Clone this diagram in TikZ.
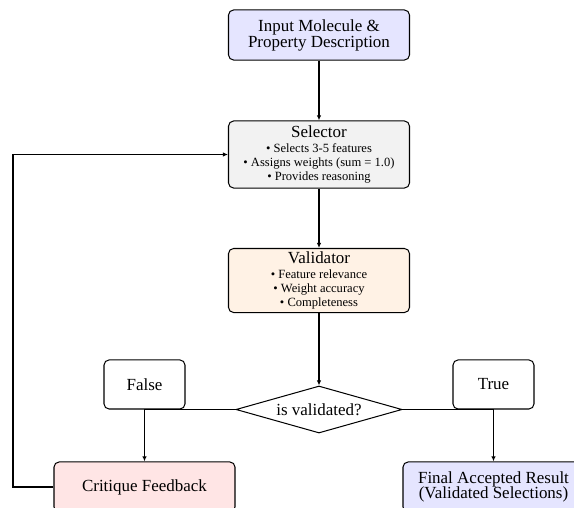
\documentclass[tikz,border=0pt]{standalone}
\usepackage{fontspec}
\setmainfont{Liberation Serif}
\usetikzlibrary{shapes.geometric, arrows.meta}

\begin{document}
\begin{tikzpicture}[x=0.589pt, y=-0.589pt,
    box/.style={draw, semithick, rounded corners=3pt, align=center, minimum width=106.6pt, minimum height=29.5pt, inner sep=2pt},
    listbox/.style={box, font=\fontsize{7.4}{8.2}\selectfont},
    flag/.style={draw, semithick, rounded corners=3pt, fill=white, minimum width=47.7pt, minimum height=28.9pt},
    decision/.style={draw, semithick, diamond, aspect=3.5, minimum width=97.8pt, minimum height=27.7pt, inner sep=1pt},
    arrow/.style={semithick, -{Latex[length=3pt, width=2.6pt]}}]
    \useasboundingbox (0,0) rectangle (574,508);

    % Main column
    \node[box, fill=blue!10] (input) at (319,35) {Input Molecule \&\\[-2.6pt]Property Description};
    \node[listbox, fill=gray!10, minimum height=39.5pt] (selector) at (319,154.5)
        {{\fontsize{10}{12}\selectfont Selector}\\[0.6pt]\textbullet{} Selects 3-5 features\\\textbullet{} Assigns weights (sum = 1.0)\\\textbullet{} Provides reasoning};
    \node[listbox, fill=orange!10, minimum height=36pt] (validator) at (319,280.5)
        {{\fontsize{10}{12}\selectfont Validator}\\[0.6pt]\textbullet{} Feature relevance\\\textbullet{} Weight accuracy\\\textbullet{} Completeness};
    \node[decision] (check) at (319,409.5) {is validated?};

    % Outcomes
    \node[box, fill=red!10] (critique) at (144.5,487) {Critique Feedback};
    \node[box, fill=blue!10] (final) at (493.5,487) {Final Accepted Result\\[-3.4pt](Validated Selections)};

    % Arrows
    \draw[arrow] (input) -- (selector);
    \draw[arrow] (selector) -- (validator);
    \draw[arrow] (validator) -- (check);
    \draw[arrow] (check.west) -| node[flag, anchor=south] (false) {False} (critique.north);
    \draw[arrow] (check.east) -| node[flag, anchor=south] (true) {True} (final.north);
    \draw[arrow] (critique.west) -- ++(-40.5,0) |- (selector.west);
\end{tikzpicture}
\end{document}
